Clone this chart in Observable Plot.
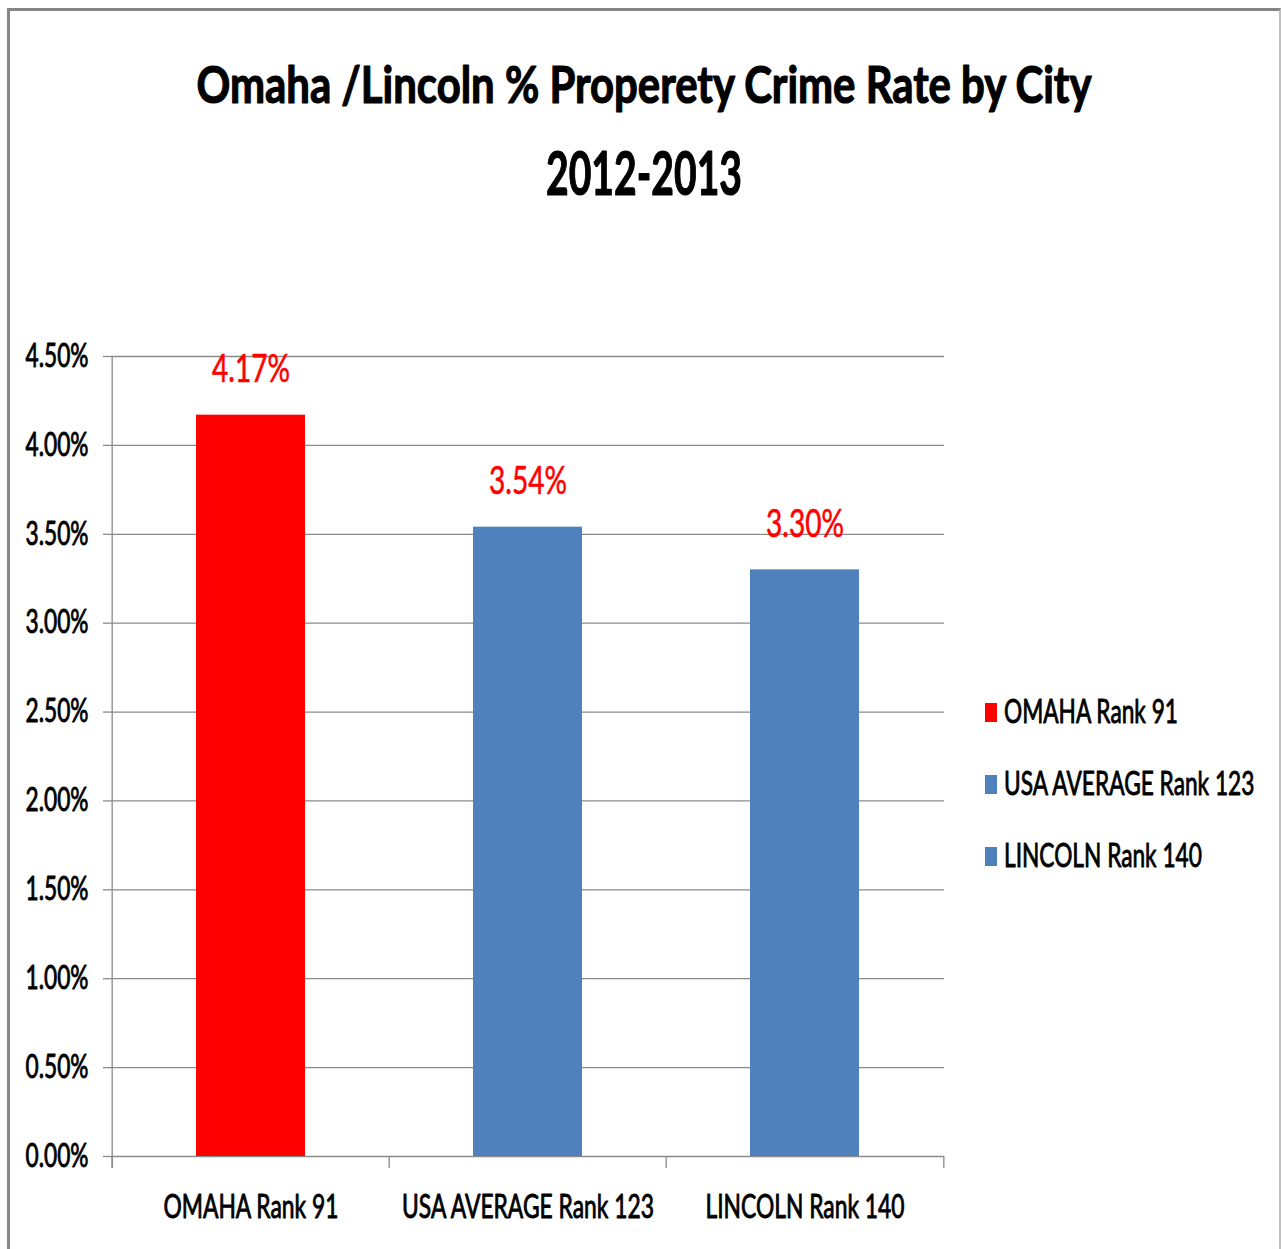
<!DOCTYPE html>
<html>
<head>
<meta charset="utf-8">
<script src="https://cdn.jsdelivr.net/npm/d3@7"></script>
<script src="https://cdn.jsdelivr.net/npm/@observablehq/plot@0.6"></script>
<style>
  html, body { margin: 0; padding: 0; background: #fff; }
  #wrap { position: relative; width: 1281px; height: 1249px; overflow: hidden; background: #fff; }
  #border { position: absolute; left: 7px; top: 8px; width: 1274px; height: 1260px; box-sizing: border-box;
            border-top: 3px solid #858585; border-left: 3px solid #858585; border-right: 2px solid #c0c0c0; }
  #chart { position: absolute; left: 0; top: 0; }
  #overlay { position: absolute; left: 0; top: 0; pointer-events: none; }
</style>
</head>
<body>
<div id="wrap">
  <div id="border"></div>
  <div id="chart"></div>
  <svg id="overlay" width="1281" height="1249"></svg>
</div>
<script>
// ---- data ----
const cities = ["OMAHA Rank 91", "USA AVERAGE Rank 123", "LINCOLN Rank 140"];
const rates = [4.17, 3.54, 3.30];
const rateLabels = ["4.17%", "3.54%", "3.30%"];
const barColors = ["#FF0000", "#4F81BD", "#4F81BD"];
const yTicks = [0, 0.5, 1, 1.5, 2, 2.5, 3, 3.5, 4, 4.5];
const titleLines = ["Omaha /Lincoln % Properety Crime Rate by City", "2012-2013"];

const data = cities.map((c, i) => ({city: c, rate: rates[i], label: rateLabels[i]}));

// ---- layout ----
const W = 1281, H = 1249;
const mL = 111, mR = 337, mT = 356, mB = 93;
const step = (W - mL - mR) / cities.length;
const gridColor = "#8a8a8a";
const FONT = "Lato, 'Open Sans', 'Noto Sans', sans-serif";

const chart = Plot.plot({
  width: W, height: H,
  marginLeft: mL, marginRight: mR, marginTop: mT, marginBottom: mB,
  style: {fontFamily: FONT, background: "transparent", color: "#000", overflow: "visible"},
  x: {domain: cities, padding: 0, label: null},
  y: {domain: [0, 4.5], label: null},
  color: {domain: cities, range: barColors},
  marks: [
    Plot.ruleY(yTicks, {y: d => d, stroke: gridColor, strokeWidth: 1.3}),
    Plot.axisY({ticks: yTicks, tickFormat: d => d.toFixed(2) + "%", tickSize: 8, tickPadding: 15,
                fontSize: 32, stroke: gridColor, strokeWidth: 1.3, fill: "#000", label: null}),
    Plot.axisX({tickSize: 0, tickPadding: 39, fontSize: 32, fill: "#000", label: null}),
    Plot.ruleX([cities[0]], {x: d => d, y1: 4.5, y2: 0, dx: -step / 2, insetBottom: -12, stroke: gridColor, strokeWidth: 1.3}),
    Plot.ruleX(cities, {x: d => d, y1: 0, y2: 0, dx: -step / 2, insetBottom: -12, stroke: gridColor, strokeWidth: 1.3}),
    Plot.ruleX([cities[cities.length - 1]], {x: d => d, y1: 0, y2: 0, dx: step / 2, insetBottom: -12, stroke: gridColor, strokeWidth: 1.3}),
    Plot.barY(data, {x: "city", y: "rate", fill: "city", insetLeft: 84, insetRight: 84}),
    Plot.text(data, {x: "city", y: "rate", text: "label", fill: "#FF0000", fontSize: 39,
                     lineAnchor: "bottom", dy: -33})
  ]
});
document.getElementById("chart").appendChild(chart);

// ---- title & legend (overlay) ----
const ov = d3.select("#overlay").style("font-family", FONT);
const t1 = ov.append("text").attr("x", 644).attr("y", 103).attr("text-anchor", "middle")
  .attr("font-weight", "bold").attr("font-size", 52).text(titleLines[0]);
const t2 = ov.append("text").attr("x", 644).attr("y", 195).attr("text-anchor", "middle")
  .attr("font-weight", "bold").attr("font-size", 61).text(titleLines[1]);

const legendRows = ov.selectAll("g.leg").data(cities).join("g").attr("class", "leg")
  .attr("transform", (d, i) => `translate(985, ${723 + i * 72})`);
legendRows.append("rect").attr("x", 0).attr("y", -20).attr("width", 12).attr("height", 19)
  .attr("fill", (d, i) => barColors[i]);
const legTexts = legendRows.append("text").attr("x", 19).attr("y", 0).attr("font-size", 33).text(d => d);

// ---- horizontal squeeze to match the condensed lettering ----
function squeezeGroup(nodes, refText, target, weight, color) {
  const ref = nodes.find(n => n.textContent === refText) || nodes[0];
  const k = target / ref.getComputedTextLength();
  nodes.forEach(n => {
    const w = n.getComputedTextLength();
    n.setAttribute("textLength", (w * k).toFixed(2));
    n.setAttribute("lengthAdjust", "spacingAndGlyphs");
    n.style.stroke = color;
    n.style.strokeWidth = weight;
    n.style.strokeLinejoin = "round";
  });
}
const svg = d3.select(chart);
squeezeGroup(svg.selectAll("g[aria-label='y-axis tick label'] text").nodes(), "4.50%", 63, 0.9, "#000");
squeezeGroup(svg.selectAll("g[aria-label='x-axis tick label'] text").nodes(), cities[0], 175, 0.9, "#000");
squeezeGroup(svg.selectAll("g[aria-label='text'] text").nodes(), rateLabels[0], 78, 0.6, "#FF0000");
squeezeGroup([t1.node()], titleLines[0], 895, 1.2, "#000");
squeezeGroup([t2.node()], titleLines[1], 196, 1.2, "#000");
squeezeGroup(legTexts.nodes(), cities[0], 174, 0.9, "#000");
</script>
</body>
</html>
